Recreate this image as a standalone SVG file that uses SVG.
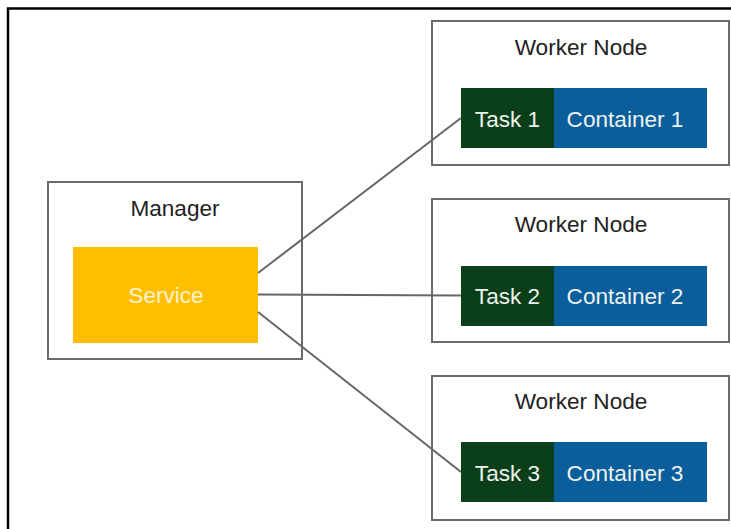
<svg xmlns="http://www.w3.org/2000/svg" width="731" height="529" viewBox="0 0 731 529">
<style>
.box{fill:#fff;stroke:#6b6b6b;stroke-width:2}
.lbl{font-family:"Liberation Sans",Arial,sans-serif;font-size:22.6px;text-anchor:middle;fill:#222}
.task{fill:#0b3f1a}
.cont{fill:#0a5e9b}
.wt{font-family:"Liberation Sans",Arial,sans-serif;font-size:22.6px;text-anchor:middle;fill:#eef2ee}
.conn{stroke:#666;stroke-width:2;fill:none}
</style>
<rect width="731" height="529" fill="#fff"/>
<path d="M8 530 V8.5 H731" fill="none" stroke="#000" stroke-width="2.5"/>
<g id="manager">
<rect class="box" x="48" y="182" width="254" height="177"/>
<text class="lbl" x="175" y="216">Manager</text>
<rect x="73" y="247" width="185" height="96" fill="#ffbf00"/>
<text class="wt" x="166" y="303" style="fill:#fff3cf">Service</text>
</g>
<g id="worker1">
<rect class="box" x="432" y="21" width="297" height="144"/>
<text class="lbl" x="581" y="55">Worker Node</text>
<rect class="task" x="461" y="88" width="93" height="60"/>
<rect class="cont" x="554" y="88" width="153" height="60"/>
<text class="wt" x="507.5" y="127">Task 1</text>
<text class="wt" x="625" y="127">Container 1</text>
</g>
<g id="worker2">
<rect class="box" x="432" y="199" width="297" height="143"/>
<text class="lbl" x="581" y="232">Worker Node</text>
<rect class="task" x="461" y="266" width="93" height="60"/>
<rect class="cont" x="554" y="266" width="153" height="60"/>
<text class="wt" x="507.5" y="304">Task 2</text>
<text class="wt" x="625" y="304">Container 2</text>
</g>
<g id="worker3">
<rect class="box" x="432" y="376" width="297" height="144"/>
<text class="lbl" x="581" y="409">Worker Node</text>
<rect class="task" x="461" y="442" width="93" height="60"/>
<rect class="cont" x="554" y="442" width="153" height="60"/>
<text class="wt" x="507.5" y="481">Task 3</text>
<text class="wt" x="625" y="481">Container 3</text>
</g>
<g id="connectors">
<line class="conn" x1="258" y1="273" x2="461" y2="118"/>
<line class="conn" x1="258" y1="294.5" x2="461" y2="295.5"/>
<line class="conn" x1="258" y1="312" x2="461" y2="472"/>
</g>
</svg>
